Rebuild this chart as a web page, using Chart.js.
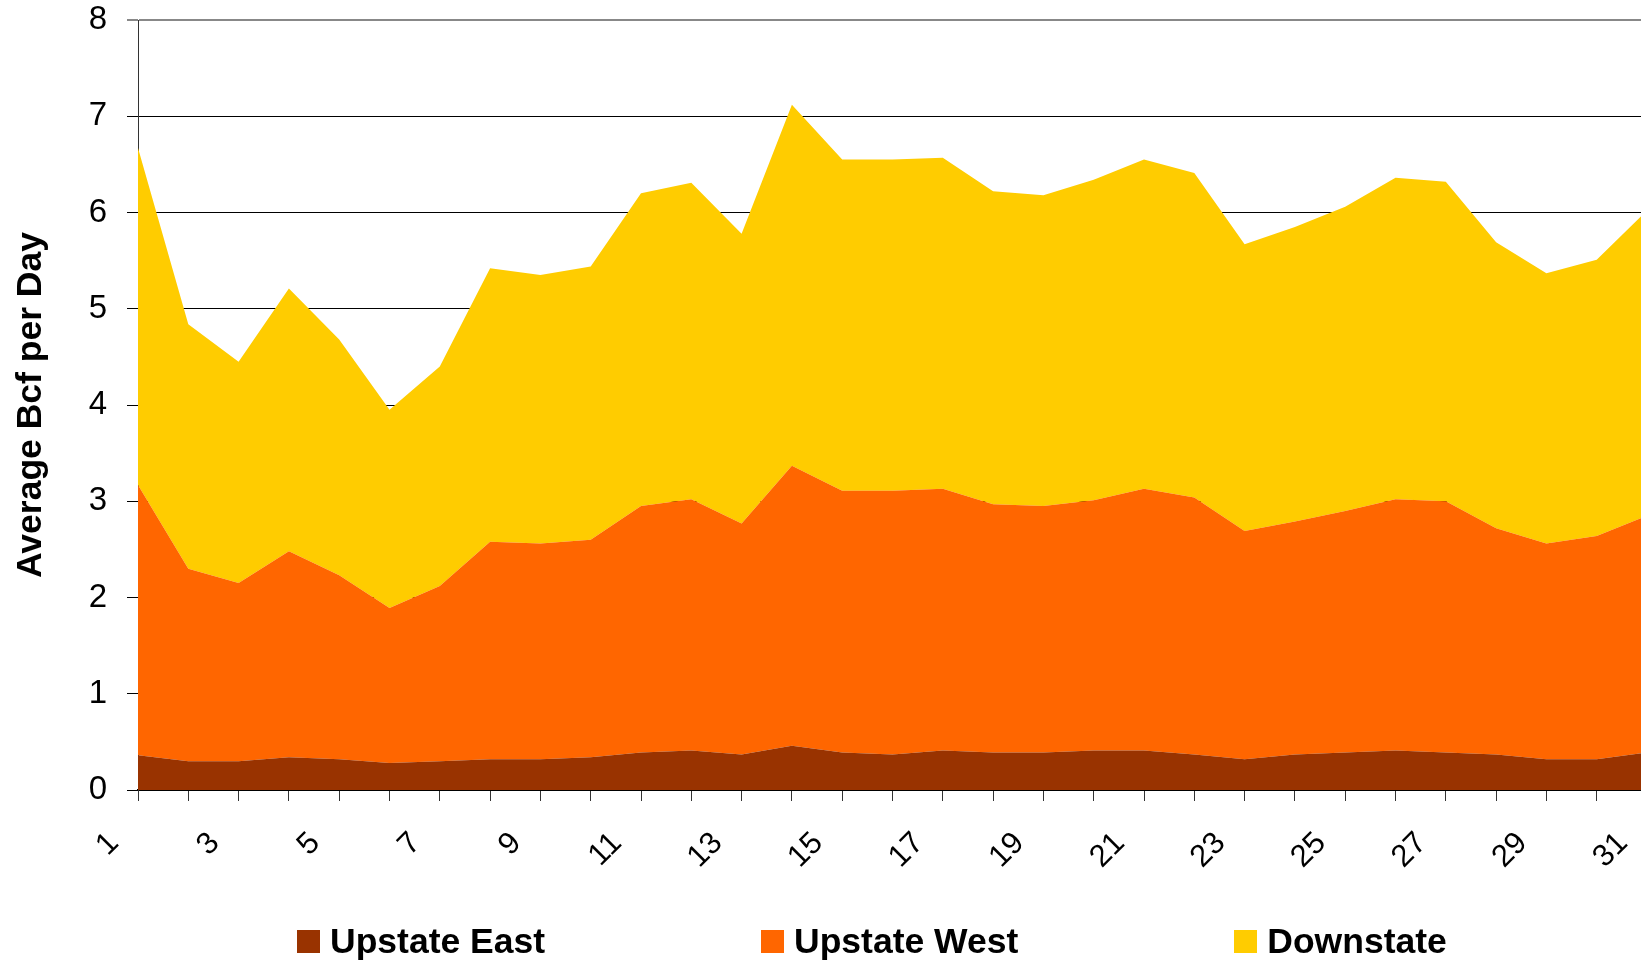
<!DOCTYPE html>
<html>
<head>
<meta charset="utf-8">
<script src="https://cdn.jsdelivr.net/npm/chart.js@4"></script>
<style>
    html, body { margin: 0; padding: 0; background: #fff; overflow: hidden; }
    #wrap { position: relative; width: 1641px; height: 960px; overflow: hidden; }
    #legend {
        position: absolute; left: 297px; top: 923px;
        display: flex; gap: 216px;
        font-family: "Liberation Sans", Arial, sans-serif; font-weight: bold; font-size: 35.5px;
        line-height: 36px; color: #000; white-space: nowrap;
    }
    .item { display: flex; align-items: center; }
    .swatch { width: 23px; height: 23px; margin-right: 10px; }
</style>
</head>
<body>
<div id="wrap">
    <!-- slightly wider than the window: the last day sits just past the right edge, as in the original -->
    <canvas id="chart" width="1647" height="960"></canvas>
    <div id="legend"></div>
</div>
<script>
// -- Data --
const days = ['1', '2', '3', '4', '5', '6', '7', '8', '9', '10', '11', '12', '13', '14', '15', '16',
    '17', '18', '19', '20', '21', '22', '23', '24', '25', '26', '27', '28', '29', '30', '31'];

const upstateEast = [0.36, 0.30, 0.30, 0.34, 0.32, 0.28, 0.30, 0.32, 0.32, 0.34, 0.39, 0.41, 0.37, 0.46, 0.39, 0.37,
    0.41, 0.39, 0.39, 0.41, 0.41, 0.37, 0.32, 0.37, 0.39, 0.41, 0.39, 0.37, 0.32, 0.32, 0.39];
const upstateWest = [2.81, 2.00, 1.85, 2.14, 1.91, 1.61, 1.82, 2.26, 2.24, 2.26, 2.56, 2.61, 2.40, 2.91, 2.72, 2.74,
    2.72, 2.58, 2.56, 2.60, 2.72, 2.67, 2.37, 2.42, 2.51, 2.61, 2.61, 2.35, 2.24, 2.32, 2.46];
const downstate = [3.50, 2.54, 2.30, 2.73, 2.45, 2.06, 2.28, 2.84, 2.79, 2.84, 3.25, 3.29, 3.01, 3.75, 3.44, 3.44,
    3.44, 3.25, 3.23, 3.33, 3.42, 3.37, 2.98, 3.06, 3.16, 3.34, 3.32, 2.97, 2.81, 2.87, 3.17];

const seriesNames = ['Upstate East', 'Upstate West', 'Downstate'];
const seriesColors = ['#993300', '#FF6600', '#FFCC00'];

const FONT = '"Liberation Sans", Arial, sans-serif';

// -- Chart --
const datasets = [upstateEast, upstateWest, downstate].map((values, i) => ({
    label: seriesNames[i],
    data: values,
    backgroundColor: seriesColors[i],
    borderWidth: 0,
    pointRadius: 0,
    tension: 0,
    fill: i === 0 ? 'origin' : '-1'
}));

const ctx = document.getElementById('chart').getContext('2d');
new Chart(ctx, {
    type: 'line',
    data: { labels: days, datasets: datasets },
    options: {
        responsive: false,
        animation: false,
        devicePixelRatio: 1,
        layout: { padding: { top: 20, right: 0, bottom: 0, left: 0 } },
        plugins: {
            legend: { display: false }, // html legend below
            tooltip: { enabled: false }
        },
        scales: {
            x: {
                type: 'category',
                offset: false,
                afterFit: (s) => { s.height = 170; s.paddingRight = 0; },
                grid: {
                    drawOnChartArea: false,
                    drawTicks: true,
                    tickLength: 11,
                    color: '#333',
                    lineWidth: 1
                },
                border: { display: true, color: '#000', width: 2 },
                ticks: {
                    autoSkip: false,
                    minRotation: 45,
                    maxRotation: 45,
                    padding: 24,
                    labelOffset: -24,
                    color: '#000',
                    font: { family: FONT, size: 31 },
                    callback: (val, idx) => idx % 2 === 0 ? days[idx] : ''
                }
            },
            y: {
                stacked: true,
                min: 0,
                max: 8,
                afterFit: (s) => { s.width = 138; s.paddingTop = 0; },
                grid: {
                    drawTicks: true,
                    tickLength: 11,
                    color: (c) => c.tick && c.tick.value === 8 ? '#888' : '#000',
                    lineWidth: (c) => c.tick && c.tick.value === 8 ? 2 : 1
                },
                border: { display: true, color: '#333', width: 1 },
                ticks: {
                    stepSize: 1,
                    padding: 20,
                    color: '#000',
                    font: { family: FONT, size: 33 }
                },
                title: {
                    display: true,
                    text: 'Average Bcf per Day',
                    color: '#000',
                    font: { family: FONT, size: 35.5, weight: 'bold' },
                    padding: { top: 10, bottom: 10 }
                }
            }
        }
    }
});

// -- Legend --
const legendEl = document.getElementById('legend');
legendEl.innerHTML = seriesNames.map((name, i) =>
    `<div class="item"><span class="swatch" style="background:${seriesColors[i]}"></span>${name}</div>`
).join('');
</script>
</body>
</html>
